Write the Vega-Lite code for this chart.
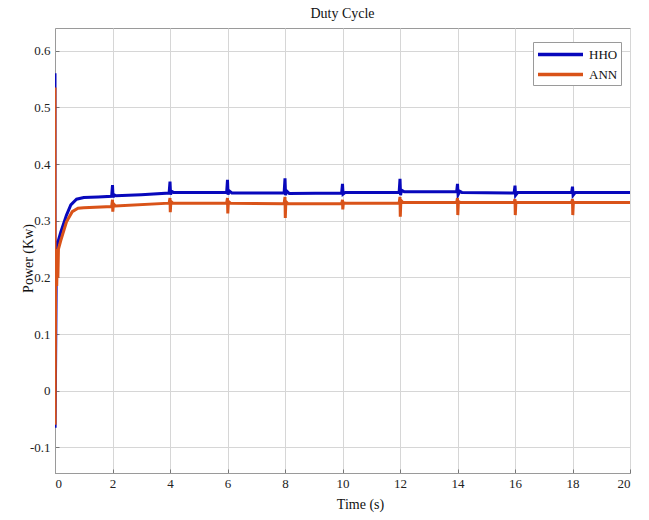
{
  "$schema": "https://vega.github.io/schema/vega-lite/v6.json",
  "width": 575,
  "height": 445,
  "autosize": {"type": "none"},
  "padding": {"left": 55, "top": 28, "right": 19, "bottom": 47},
  "background": "white",
  "title": {"text": "Duty Cycle", "anchor": "middle", "offset": 7, "fontSize": 14, "fontWeight": "normal", "font": "Liberation Serif", "color": "#111"},
  "config": {
    "font": "Liberation Serif",
    "view": {"stroke": "#9a9a9a", "strokeWidth": 1},
    "axis": {
      "labelFont": "Liberation Serif",
      "labelFontSize": 13,
      "labelColor": "#222",
      "titleFont": "Liberation Serif",
      "titleFontSize": 14,
      "titleFontWeight": "normal",
      "titleColor": "#111",
      "gridColor": "#d6d6d6",
      "gridWidth": 1,
      "domainColor": "#9a9a9a",
      "tickColor": "#777",
      "tickSize": -4,
      "labelPadding": 9
    }
  },
  "datasets": {
    "hho": [
      {"t": 0.000, "p": 0.56, "s": "HHO"},
      {"t": 0.004, "p": -0.065, "s": "HHO"},
      {"t": 0.05, "p": 0.255, "s": "HHO"},
      {"t": 0.1, "p": 0.262, "s": "HHO"},
      {"t": 0.2, "p": 0.28, "s": "HHO"},
      {"t": 0.4, "p": 0.31, "s": "HHO"},
      {"t": 0.55, "p": 0.328, "s": "HHO"},
      {"t": 0.75, "p": 0.338, "s": "HHO"},
      {"t": 1.0, "p": 0.341, "s": "HHO"},
      {"t": 1.5, "p": 0.342, "s": "HHO"},
      {"t": 1.97, "p": 0.343, "s": "HHO"},
      {"t": 2.0, "p": 0.363, "s": "HHO"},
      {"t": 2.02, "p": 0.341, "s": "HHO"},
      {"t": 2.05, "p": 0.346, "s": "HHO"},
      {"t": 2.12, "p": 0.344, "s": "HHO"},
      {"t": 3.0, "p": 0.346, "s": "HHO"},
      {"t": 3.97, "p": 0.349, "s": "HHO"},
      {"t": 4.0, "p": 0.369, "s": "HHO"},
      {"t": 4.02, "p": 0.346, "s": "HHO"},
      {"t": 4.05, "p": 0.352, "s": "HHO"},
      {"t": 4.12, "p": 0.35, "s": "HHO"},
      {"t": 5.97, "p": 0.35, "s": "HHO"},
      {"t": 6.0, "p": 0.372, "s": "HHO"},
      {"t": 6.02, "p": 0.346, "s": "HHO"},
      {"t": 6.05, "p": 0.353, "s": "HHO"},
      {"t": 6.15, "p": 0.349, "s": "HHO"},
      {"t": 7.97, "p": 0.349, "s": "HHO"},
      {"t": 8.0, "p": 0.375, "s": "HHO"},
      {"t": 8.02, "p": 0.345, "s": "HHO"},
      {"t": 8.05, "p": 0.353, "s": "HHO"},
      {"t": 8.15, "p": 0.348, "s": "HHO"},
      {"t": 9.97, "p": 0.349, "s": "HHO"},
      {"t": 10.0, "p": 0.365, "s": "HHO"},
      {"t": 10.02, "p": 0.347, "s": "HHO"},
      {"t": 10.1, "p": 0.35, "s": "HHO"},
      {"t": 11.97, "p": 0.35, "s": "HHO"},
      {"t": 12.0, "p": 0.374, "s": "HHO"},
      {"t": 12.02, "p": 0.345, "s": "HHO"},
      {"t": 12.05, "p": 0.354, "s": "HHO"},
      {"t": 12.15, "p": 0.351, "s": "HHO"},
      {"t": 13.97, "p": 0.351, "s": "HHO"},
      {"t": 14.0, "p": 0.365, "s": "HHO"},
      {"t": 14.02, "p": 0.346, "s": "HHO"},
      {"t": 14.08, "p": 0.352, "s": "HHO"},
      {"t": 14.15, "p": 0.35, "s": "HHO"},
      {"t": 15.97, "p": 0.349, "s": "HHO"},
      {"t": 16.0, "p": 0.362, "s": "HHO"},
      {"t": 16.02, "p": 0.345, "s": "HHO"},
      {"t": 16.1, "p": 0.35, "s": "HHO"},
      {"t": 17.97, "p": 0.35, "s": "HHO"},
      {"t": 18.0, "p": 0.36, "s": "HHO"},
      {"t": 18.02, "p": 0.345, "s": "HHO"},
      {"t": 18.1, "p": 0.35, "s": "HHO"},
      {"t": 20.0, "p": 0.35, "s": "HHO"}
    ],
    "ann": [
      {"t": 0.000, "p": 0.535, "s": "ANN"},
      {"t": 0.004, "p": -0.06, "s": "ANN"},
      {"t": 0.02, "p": 0.18, "s": "ANN"},
      {"t": 0.04, "p": 0.25, "s": "ANN"},
      {"t": 0.06, "p": 0.185, "s": "ANN"},
      {"t": 0.08, "p": 0.245, "s": "ANN"},
      {"t": 0.1, "p": 0.2, "s": "ANN"},
      {"t": 0.12, "p": 0.25, "s": "ANN"},
      {"t": 0.2, "p": 0.265, "s": "ANN"},
      {"t": 0.4, "p": 0.298, "s": "ANN"},
      {"t": 0.6, "p": 0.316, "s": "ANN"},
      {"t": 0.8, "p": 0.322, "s": "ANN"},
      {"t": 1.0, "p": 0.323, "s": "ANN"},
      {"t": 1.97, "p": 0.325, "s": "ANN"},
      {"t": 2.0, "p": 0.337, "s": "ANN"},
      {"t": 2.01, "p": 0.316, "s": "ANN"},
      {"t": 2.03, "p": 0.33, "s": "ANN"},
      {"t": 2.1, "p": 0.326, "s": "ANN"},
      {"t": 3.97, "p": 0.331, "s": "ANN"},
      {"t": 4.0, "p": 0.34, "s": "ANN"},
      {"t": 4.01, "p": 0.315, "s": "ANN"},
      {"t": 4.03, "p": 0.334, "s": "ANN"},
      {"t": 4.1, "p": 0.331, "s": "ANN"},
      {"t": 5.97, "p": 0.331, "s": "ANN"},
      {"t": 6.0, "p": 0.34, "s": "ANN"},
      {"t": 6.01, "p": 0.313, "s": "ANN"},
      {"t": 6.03, "p": 0.334, "s": "ANN"},
      {"t": 6.1, "p": 0.331, "s": "ANN"},
      {"t": 7.97, "p": 0.33, "s": "ANN"},
      {"t": 8.0, "p": 0.342, "s": "ANN"},
      {"t": 8.01, "p": 0.305, "s": "ANN"},
      {"t": 8.03, "p": 0.334, "s": "ANN"},
      {"t": 8.1, "p": 0.33, "s": "ANN"},
      {"t": 9.97, "p": 0.33, "s": "ANN"},
      {"t": 10.0, "p": 0.337, "s": "ANN"},
      {"t": 10.01, "p": 0.32, "s": "ANN"},
      {"t": 10.03, "p": 0.332, "s": "ANN"},
      {"t": 10.1, "p": 0.331, "s": "ANN"},
      {"t": 11.97, "p": 0.331, "s": "ANN"},
      {"t": 12.0, "p": 0.342, "s": "ANN"},
      {"t": 12.01, "p": 0.307, "s": "ANN"},
      {"t": 12.03, "p": 0.336, "s": "ANN"},
      {"t": 12.1, "p": 0.332, "s": "ANN"},
      {"t": 13.97, "p": 0.332, "s": "ANN"},
      {"t": 14.0, "p": 0.34, "s": "ANN"},
      {"t": 14.01, "p": 0.31, "s": "ANN"},
      {"t": 14.03, "p": 0.334, "s": "ANN"},
      {"t": 14.1, "p": 0.332, "s": "ANN"},
      {"t": 15.97, "p": 0.332, "s": "ANN"},
      {"t": 16.0, "p": 0.338, "s": "ANN"},
      {"t": 16.01, "p": 0.31, "s": "ANN"},
      {"t": 16.03, "p": 0.333, "s": "ANN"},
      {"t": 16.1, "p": 0.332, "s": "ANN"},
      {"t": 17.97, "p": 0.332, "s": "ANN"},
      {"t": 18.0, "p": 0.338, "s": "ANN"},
      {"t": 18.01, "p": 0.31, "s": "ANN"},
      {"t": 18.03, "p": 0.333, "s": "ANN"},
      {"t": 18.1, "p": 0.332, "s": "ANN"},
      {"t": 20.0, "p": 0.332, "s": "ANN"}
    ]
  },
  "encoding": {
    "x": {
      "field": "t", "type": "quantitative",
      "scale": {"domain": [0, 20], "nice": false, "zero": false},
      "axis": {"values": [0, 2, 4, 6, 8, 10, 12, 14, 16, 18, 20], "title": "Time (s)", "grid": true, "labelPadding": 8, "titleX": 305, "titleY": 31, "titleBaseline": "middle"}
    },
    "y": {
      "field": "p", "type": "quantitative",
      "scale": {"domain": [-0.145, 0.64], "nice": false, "zero": false},
      "axis": {
        "values": [-0.1, 0, 0.1, 0.2, 0.3, 0.4, 0.5, 0.6],
        "labelExpr": "datum.value == 0 ? '0' : (datum.value < 0 ? '-' + format(-datum.value, '.1f') : format(datum.value, '.1f'))",
        "title": "Power (Kw)", "grid": true,
        "titleX": -27, "titleY": 230, "titleAngle": -90, "titleAlign": "center", "titleBaseline": "middle"
      }
    },
    "color": {
      "field": "s", "type": "nominal",
      "scale": {"domain": ["HHO", "ANN"], "range": ["#0808bc", "#d95319"]},
      "legend": {
        "title": null, "orient": "none", "legendX": 478, "legendY": 14,
        "symbolType": "M-1,0H5", "symbolSize": 225, "symbolStrokeWidth": 3.5, "symbolFillColor": "transparent",
        "labelFont": "Liberation Serif", "labelFontSize": 13, "labelColor": "#111",
        "strokeColor": "#9a9a9a", "fillColor": "white", "padding": 3, "rowPadding": 3, "labelOffset": 34
      }
    }
  },
  "layer": [
    {"data": {"name": "hho"}, "mark": {"type": "line", "strokeWidth": 3, "clip": true}},
    {"data": {"name": "ann"}, "mark": {"type": "line", "strokeWidth": 3, "clip": true}}
  ]
}
